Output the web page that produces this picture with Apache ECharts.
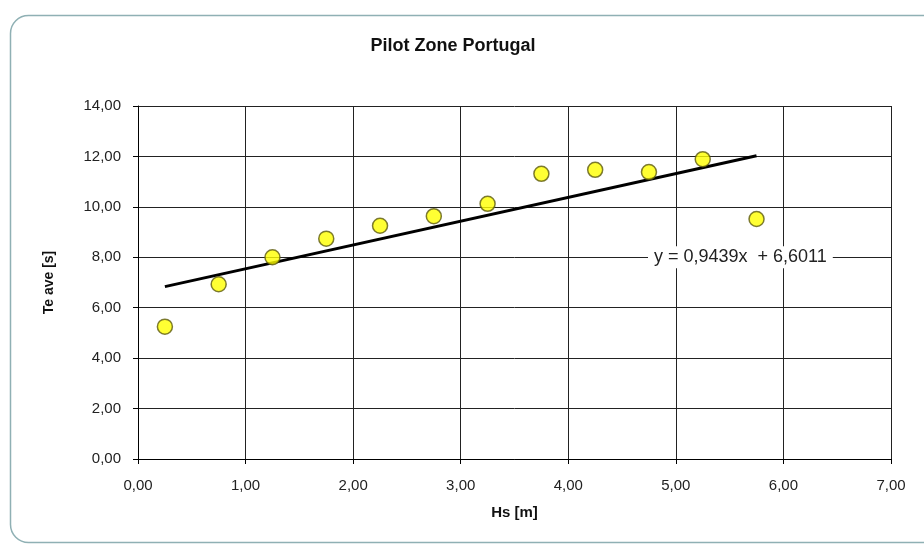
<!DOCTYPE html>
<html>
<head>
<meta charset="utf-8">
<script src="https://cdn.jsdelivr.net/npm/echarts@6/dist/echarts.min.js"></script>
<style>html,body{margin:0;padding:0;background:#fff}#c{width:924px;height:545px}</style>
</head>
<body>
<div id="c"></div>
<script>
// Data
var hsValues = [0.25, 0.75, 1.25, 1.75, 2.25, 2.75, 3.25, 3.75, 4.25, 4.75, 5.25, 5.75];
var teValues = [5.25, 6.93, 8.00, 8.74, 9.25, 9.63, 10.12, 11.31, 11.47, 11.38, 11.89, 9.52];
var trendSlope = [0.9439];
var trendIntercept = [6.6011];
var trendRange = [0.25, 5.75];
var xTicks = [0, 1, 2, 3, 4, 5, 6, 7];
var yTicks = [0, 2, 4, 6, 8, 10, 12, 14];
var titleText = 'Pilot Zone Portugal';
var xName = 'Hs [m]';
var yName = 'Te ave [s]';

function fmt(v, d) { return v.toFixed(d).replace('.', ','); }

var points = hsValues.map(function (x, i) { return [x, teValues[i]]; });
var trend = trendRange.map(function (x) { return [x, trendSlope[0] * x + trendIntercept[0]]; });
var eqText = 'y = ' + fmt(trendSlope[0], 4) + 'x  + ' + fmt(trendIntercept[0], 4);

var FONT = 'Liberation Sans, Arial, sans-serif';
var chart = echarts.init(document.getElementById('c'), null, { renderer: 'canvas' });
chart.setOption({
  animation: false,
  backgroundColor: '#ffffff',
  textStyle: { fontFamily: FONT },
  grid: { left: 138, right: 33, top: 106, bottom: 86, containLabel: false },
  graphic: [
    { type: 'rect', z: -10, silent: true,
      shape: { x: 10.5, y: 15.5, width: 940, height: 527, r: 18 },
      style: { fill: '#ffffff', stroke: '#8fb0b4', lineWidth: 1.5 } },
    { type: 'text', x: 453, y: 46, z: 10,
      style: { text: titleText, font: 'bold 18px ' + FONT, fill: '#111', align: 'center', verticalAlign: 'middle' } }
  ],
  xAxis: {
    type: 'value', min: xTicks[0], max: xTicks[xTicks.length - 1], interval: 1,
    name: xName, nameLocation: 'middle', nameGap: 46,
    nameTextStyle: { fontFamily: FONT, fontWeight: 'bold', fontSize: 15, color: '#111' },
    axisLine: { show: true, lineStyle: { color: '#000', width: 1 } },
    axisTick: { show: true, length: 5, inside: false, lineStyle: { color: '#000' } },
    axisLabel: { margin: 19, fontSize: 15, color: '#222', fontFamily: FONT,
      formatter: function (v) { return fmt(v, 2); } },
    splitLine: { show: true, lineStyle: { color: '#222', width: 1 } }
  },
  yAxis: {
    type: 'value', min: yTicks[0], max: yTicks[yTicks.length - 1], interval: 2,
    name: yName, nameLocation: 'middle', nameGap: 82, nameRotate: 90,
    nameTextStyle: { fontFamily: FONT, fontWeight: 'bold', fontSize: 14, color: '#111' },
    axisLine: { show: true, lineStyle: { color: '#000', width: 1 } },
    axisTick: { show: true, length: 5, inside: false, lineStyle: { color: '#000' } },
    axisLabel: { margin: 17, fontSize: 15, color: '#222', fontFamily: FONT,
      formatter: function (v) { return fmt(v, 2); } },
    splitLine: { show: true, lineStyle: { color: '#222', width: 1 } }
  },
  series: [
    {
      type: 'line', data: trend, symbol: 'none', z: 3,
      lineStyle: { color: '#000', width: 3 },
      markPoint: {
        symbol: 'rect', symbolSize: 1, itemStyle: { color: 'rgba(0,0,0,0)' },
        data: [{ coord: [5.6, 8] }],
        label: { show: true, position: 'inside', formatter: eqText,
          fontSize: 18, color: '#222', fontFamily: FONT,
          backgroundColor: '#fff', padding: [2, 6] }
      }
    },
    {
      type: 'scatter', data: points, symbol: 'circle', symbolSize: 15, z: 4,
      itemStyle: { color: '#ffff00', borderColor: '#5c5a10', borderWidth: 1.5 }
    }
  ]
});
</script>
</body>
</html>
